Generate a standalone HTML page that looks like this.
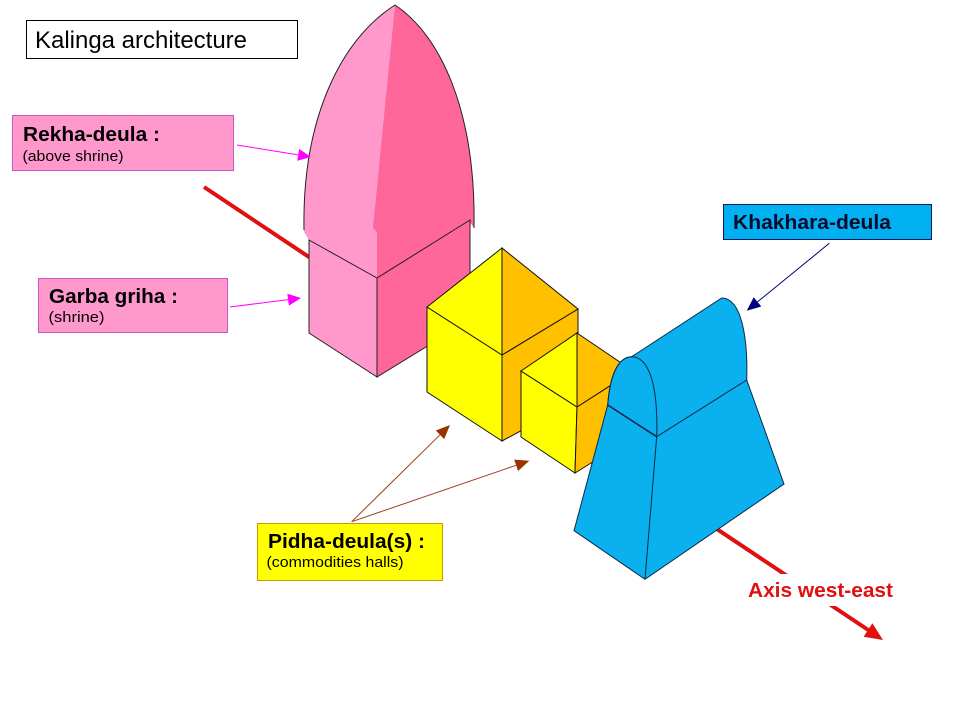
<!DOCTYPE html>
<html>
<head>
<meta charset="utf-8">
<style>
html,body{margin:0;padding:0;background:#fff;}
svg{display:block;}
text{font-family:"Liberation Sans",Arial,sans-serif;}
</style>
</head>
<body>
<svg width="960" height="720" viewBox="0 0 960 720" xmlns="http://www.w3.org/2000/svg">
<rect width="960" height="720" fill="#fff"/>

<!-- red axis line -->
<line x1="204" y1="187" x2="869" y2="630.5" stroke="#E01010" stroke-width="4"/>
<polygon points="883,640 863.6,636.7 872.4,623.3" fill="#E01010"/>

<!-- Pink: Rekha deula dome -->
<path d="M304,230 C302,120 340,40 395,5 C440,35 476,110 474,228 L470,222 L377,278 L309,240 Z" fill="#FF6699"/>
<path d="M304,232 C302,120 340,40 395,5 L373,228 L377,232 L377,278 L309,240 Z" fill="#FF99CC"/>
<path d="M304,230 C302,120 340,40 395,5 C440,35 476,110 474,228" fill="none" stroke="#222" stroke-width="1"/>
<!-- Garba griha box -->
<polygon points="309,240 377,278 377,377 309,333" fill="#FF99CC" stroke="#222" stroke-width="1"/>
<polygon points="377,278 470,220 470,320 377,377" fill="#FF6699" stroke="#222" stroke-width="1"/>

<!-- Large yellow box -->
<polygon points="427,307 502,355 502,441 427,392" fill="#FFFF00" stroke="#111" stroke-width="1"/>
<polygon points="502,355 578,309 578,400 502,441" fill="#FFC000" stroke="#111" stroke-width="1"/>
<polygon points="427,307 502,248 502,355" fill="#FFFF00" stroke="#111" stroke-width="1"/>
<polygon points="502,248 578,309 502,355" fill="#FFC000" stroke="#111" stroke-width="1"/>

<!-- Small yellow box -->
<polygon points="521,371 577,407 575,473 521,437" fill="#FFFF00" stroke="#111" stroke-width="1"/>
<polygon points="577,407 633,371 633,437 575,473" fill="#FFC000" stroke="#111" stroke-width="1"/>
<polygon points="521,371 577,333 577,407" fill="#FFFF00" stroke="#111" stroke-width="1"/>
<polygon points="577,333 633,371 577,407" fill="#FFC000" stroke="#111" stroke-width="1"/>

<!-- Blue Khakhara deula -->
<path d="M574,530.7 L607.7,405 C610,375 618,357 631.7,356.7 L721.7,298 C742,298 748,340 746.7,380 L784,484 L645,579.3 Z" fill="#0BB0EE" stroke="#0A2A4A" stroke-width="1"/>
<path d="M607.7,405 C610,375 618,357 631.7,356.7 C652,357 658,395 656.7,436.7" fill="none" stroke="#0A2A4A" stroke-width="1"/>
<line x1="607.7" y1="405" x2="656.7" y2="436.7" stroke="#0A2A4A" stroke-width="1.6"/>
<line x1="656.7" y1="436.7" x2="746.7" y2="380" stroke="#0A2A4A" stroke-width="1"/>
<line x1="656.7" y1="436.7" x2="645" y2="579.3" stroke="#0A2A4A" stroke-width="1"/>

<!-- Title box -->
<rect x="26.5" y="20.5" width="271" height="38" fill="#fff" stroke="#000" stroke-width="1"/>
<text x="35" y="48" font-size="24" textLength="212" lengthAdjust="spacingAndGlyphs" fill="#000">Kalinga architecture</text>

<!-- Rekha-deula label -->
<rect x="12.5" y="115.5" width="221" height="55" fill="#FF99CC" stroke="#CC55CC" stroke-width="1"/>
<text x="23" y="141" font-size="20" font-weight="bold" textLength="137" lengthAdjust="spacingAndGlyphs" fill="#000">Rekha-deula :</text>
<text x="22.5" y="161" font-size="15" textLength="101" lengthAdjust="spacingAndGlyphs" fill="#000">(above shrine)</text>
<line x1="237" y1="145" x2="298.2" y2="154.9" stroke="#FF00FF" stroke-width="1"/>
<polygon points="311,157 297.2,160.8 299.2,149" fill="#FF00FF"/>

<!-- Garba griha label -->
<rect x="38.5" y="278.5" width="189" height="54" fill="#FF99CC" stroke="#CC55CC" stroke-width="1"/>
<text x="49" y="303" font-size="20" font-weight="bold" textLength="129" lengthAdjust="spacingAndGlyphs" fill="#000">Garba griha :</text>
<text x="48.5" y="322" font-size="15" textLength="56" lengthAdjust="spacingAndGlyphs" fill="#000">(shrine)</text>
<line x1="230" y1="307" x2="288.1" y2="299.6" stroke="#FF00FF" stroke-width="1"/>
<polygon points="301,298 288.9,305.6 287.3,293.7" fill="#FF00FF"/>

<!-- Pidha-deula label -->
<rect x="257.5" y="523.5" width="185" height="57" fill="#FFFF00" stroke="#C89B00" stroke-width="1"/>
<text x="268" y="548" font-size="20" font-weight="bold" textLength="157" lengthAdjust="spacingAndGlyphs" fill="#000">Pidha-deula(s) :</text>
<text x="266.5" y="567" font-size="15" textLength="137" lengthAdjust="spacingAndGlyphs" fill="#000">(commodities halls)</text>
<line x1="351.7" y1="521.7" x2="440" y2="434.8" stroke="#994020" stroke-width="1"/>
<polygon points="450,425 444.2,439.1 435.8,430.5" fill="#993300"/>
<line x1="351.7" y1="521.7" x2="516.1" y2="465.3" stroke="#994020" stroke-width="1"/>
<polygon points="529.3,460.7 518.1,471 514.2,459.6" fill="#993300"/>

<!-- Khakhara-deula label -->
<rect x="723.5" y="204.5" width="208" height="35" fill="#00B0F0" stroke="#0A1A5A" stroke-width="1"/>
<text x="733" y="229" font-size="20" font-weight="bold" textLength="158" lengthAdjust="spacingAndGlyphs" fill="#0A0A2A">Khakhara-deula</text>
<line x1="829.3" y1="243.3" x2="757.5" y2="301.9" stroke="#000080" stroke-width="1"/>
<polygon points="746.7,310.7 761.3,306.5 753.7,297.2" fill="#000080"/>

<!-- Axis label -->
<rect x="742" y="574" width="158" height="32" fill="#fff"/>
<text x="748" y="597" font-size="20" font-weight="bold" textLength="145" lengthAdjust="spacingAndGlyphs" fill="#E01010">Axis west-east</text>
</svg>
</body>
</html>
